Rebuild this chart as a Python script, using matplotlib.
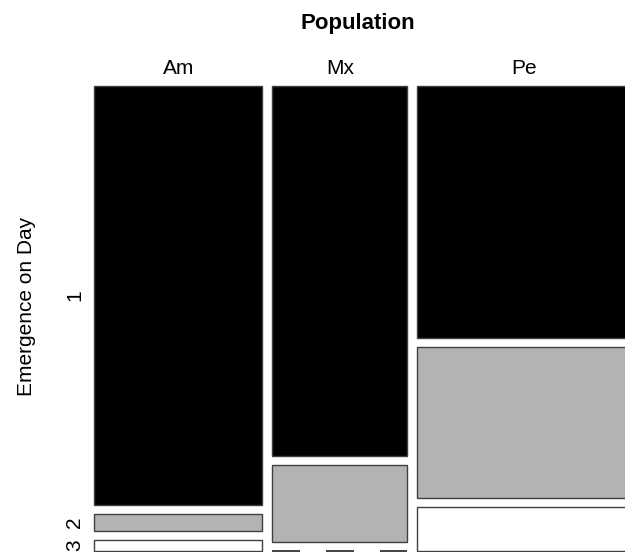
import matplotlib.pyplot as plt
import numpy as np

plt.rcParams['font.family'] = ['Liberation Sans', 'DejaVu Sans']

populations = ["Am", "Mx", "Pe"]
days = ["1", "2", "3"]
# counts per population (columns) and emergence day (rows)
counts = np.array([
    [75, 53, 57],   # day 1
    [3, 11, 34],    # day 2
    [2, 0, 10],     # day 3
])
fills = ["black", "#b3b3b3", "white"]


def main():
    W, H = 625, 552
    fig = plt.figure(figsize=(W / 100, H / 100), dpi=100)
    ax = fig.add_axes([0, 0, 1, 1])
    ax.set_xlim(0, W)
    ax.set_ylim(H, 0)
    ax.axis("off")

    x0, y0 = 94, 86
    gap_x, gap_y = 10, 9
    span_x = 536 - 2 * gap_x
    span_y = 465 - 2 * gap_y

    totals = counts.sum(axis=0)
    widths = totals / totals.sum() * span_x
    lefts = x0 + np.concatenate(([0], np.cumsum(widths + gap_x)[:-1]))

    for j, pop in enumerate(populations):
        props = counts[:, j] / totals[j]
        heights = props * span_y
        top = y0
        for i in range(len(days)):
            if counts[i, j] == 0:
                ax.plot([lefts[j], lefts[j] + widths[j]], [top, top],
                        color="#333333", lw=1.3, ls=(0, (15.5, 14.4)))
            else:
                ax.bar(lefts[j], heights[i], width=widths[j], bottom=top,
                       align="edge", color=fills[i], edgecolor="#404040", lw=1)
            top += heights[i] + gap_y
        ax.text(lefts[j] + widths[j] / 2, 73.5, pop, ha="center",
                va="baseline", fontsize=15)

    # row labels from first column
    props = counts[:, 0] / totals[0] * span_y
    top = y0
    for i, d in enumerate(days):
        ax.text(80, top + props[i] / 2, d, rotation=90, rotation_mode="anchor",
                ha="center", va="baseline", fontsize=15)
        top += props[i] + gap_y

    ax.text(358, 28.5, "Population", ha="center", va="baseline", fontsize=16,
            fontweight="bold")
    ax.text(32, 306, "Emergence on Day", rotation=90, rotation_mode="anchor",
            ha="center", va="baseline", fontsize=15)

    fig.savefig("out.png", dpi=100)


main()
